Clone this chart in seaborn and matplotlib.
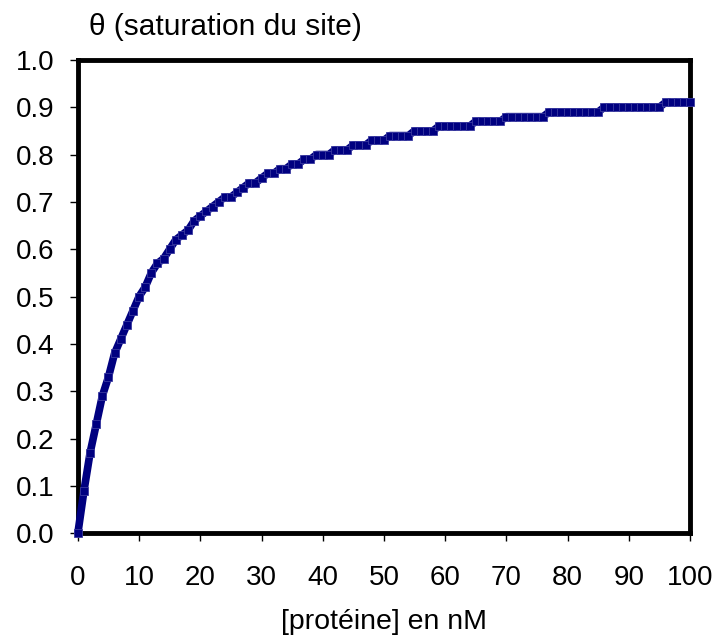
import matplotlib
matplotlib.use("Agg")
import matplotlib.pyplot as plt
import seaborn as sns
import pandas as pd

# protein concentration (nM) and site saturation
protein_nM = list(range(0, 101))
theta = [
    0.00, 0.09, 0.17, 0.23, 0.29, 0.33, 0.38, 0.41, 0.44, 0.47,
    0.50, 0.52, 0.55, 0.57, 0.58, 0.60, 0.62, 0.63, 0.64, 0.66,
    0.67, 0.68, 0.69, 0.70, 0.71, 0.71, 0.72, 0.73, 0.74, 0.74,
    0.75, 0.76, 0.76, 0.77, 0.77, 0.78, 0.78, 0.79, 0.79, 0.80,
    0.80, 0.80, 0.81, 0.81, 0.81, 0.82, 0.82, 0.82, 0.83, 0.83,
    0.83, 0.84, 0.84, 0.84, 0.84, 0.85, 0.85, 0.85, 0.85, 0.86,
    0.86, 0.86, 0.86, 0.86, 0.86, 0.87, 0.87, 0.87, 0.87, 0.87,
    0.88, 0.88, 0.88, 0.88, 0.88, 0.88, 0.88, 0.89, 0.89, 0.89,
    0.89, 0.89, 0.89, 0.89, 0.89, 0.89, 0.90, 0.90, 0.90, 0.90,
    0.90, 0.90, 0.90, 0.90, 0.90, 0.90, 0.91, 0.91, 0.91, 0.91,
    0.91,
]
x_ticks = [0, 10, 20, 30, 40, 50, 60, 70, 80, 90, 100]
y_ticks = [0.0, 0.1, 0.2, 0.3, 0.4, 0.5, 0.6, 0.7, 0.8, 0.9, 1.0]

df = pd.DataFrame({"x": protein_nM, "theta": theta})

sns.set_theme(style="white")
plt.rcParams["font.family"] = ["Liberation Sans", "DejaVu Sans"]

fig = plt.figure(figsize=(7.21, 6.37), dpi=100)
ax = fig.add_axes([0.108, 0.163, 0.849, 0.743])

sns.lineplot(data=df, x="x", y="theta", ax=ax, color="#000080",
             linewidth=5.5, marker="s", markersize=5.5,
             markeredgecolor="#3a3aa0", markeredgewidth=0.6, clip_on=False, zorder=3)

ax.set_xlim(0, 100)
ax.set_ylim(0, 1.0)
ax.set_xticks(x_ticks)
ax.set_yticks(y_ticks)
ax.set_xticklabels([str(v) for v in x_ticks], fontsize=20)
ax.set_yticklabels([f"{v:.1f}" for v in y_ticks], fontsize=20)
ax.tick_params(axis="both", direction="out", length=6, width=1, color="black",
               bottom=True, left=True, labelcolor="black")
ax.tick_params(axis="x", pad=17)
ax.tick_params(axis="y", pad=11)

for s in ax.spines.values():
    s.set_visible(True)
    s.set_color("black")
    s.set_linewidth(3.5)

ax.set_xlabel("[protéine] en nM", fontsize=20.5, labelpad=13, color="black")
ax.set_ylabel("")
fig.text(0.124, 0.958, "θ (saturation du site)", fontsize=21.5, ha="left", va="center",
         color="black")

fig.savefig("out.png", dpi=100)
